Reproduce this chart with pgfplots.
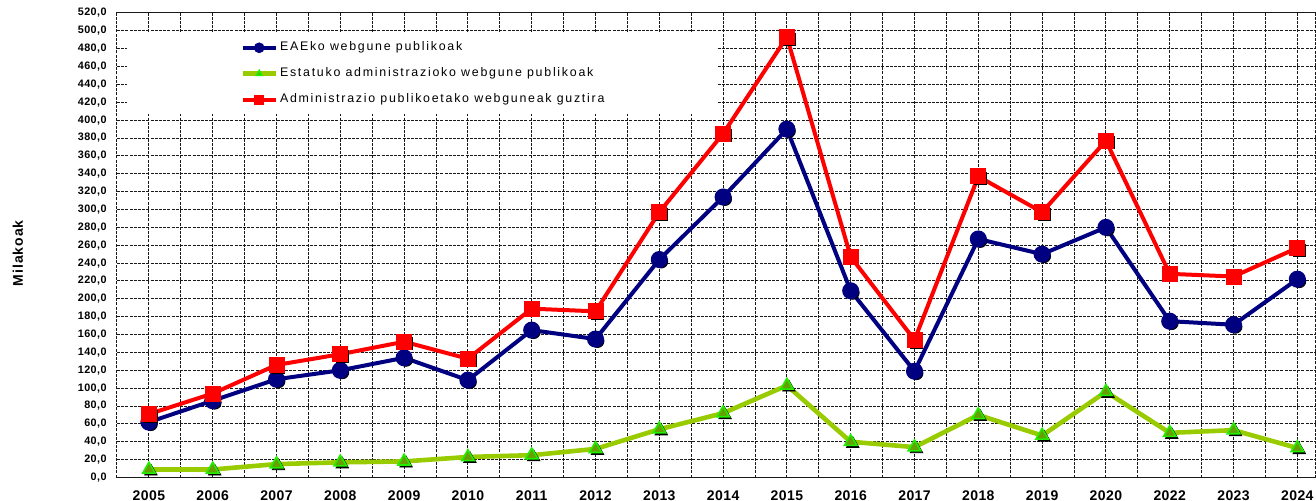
\documentclass[border=0pt]{standalone}
\usepackage{fontspec}
\setmainfont{Liberation Sans}
\newfontfamily\ytfont[LetterSpace=4]{Liberation Sans}
\newfontfamily\xtfont[LetterSpace=3]{Liberation Sans}
\newfontfamily\labfont[LetterSpace=7]{Liberation Sans}
\newfontfamily\legfont[LetterSpace=14]{Liberation Sans}
\usepackage{pgfplots}
\pgfplotsset{compat=1.18}
\definecolor{eae}{HTML}{000080}
\definecolor{estl}{HTML}{99CC00}
\definecolor{estf}{HTML}{66A000}
\definecolor{este}{HTML}{22EE00}
\definecolor{adm}{HTML}{FF0000}
\tikzset{gridl/.style={black!90, line width=0.5pt, dash pattern=on 1.5pt off 0.6pt}}
\begin{document}
\begin{tikzpicture}
\begin{axis}[
  at={(0pt,0pt)}, anchor=south west,
  x=31.9pt, y=0.44665pt,
  xmin=-0.5, xmax=18.29, ymin=0, ymax=520,
  axis line style={gridl},
  grid=both,
  major grid style={gridl},
  minor grid style={gridl},
  xtick={0,...,18}, minor x tick num=1,
  ytick={0,20,...,520},
  major tick length=0pt, minor tick length=0pt,
  xticklabels={2005,2006,2007,2008,2009,2010,2011,2012,2013,2014,2015,2016,2017,2018,2019,2020,2022,2023,2024},
  xticklabel style={font=\xtfont\bfseries\fontsize{7}{8}\selectfont, anchor=base, inner sep=0pt, yshift=-11.25pt},
  yticklabel style={font=\ytfont\bfseries\fontsize{5.4}{6}\selectfont, anchor=east, inner sep=0pt, xshift=-5pt,
    /pgf/number format/.cd, fixed, fixed zerofill, precision=1, use comma, assume math mode=true},
  ylabel={Milakoak},
  ylabel style={font=\labfont\bfseries\fontsize{7}{8}\selectfont, at={(axis description cs:-0.0826,0.4827)}, anchor=center, rotate=0},
  legend cell align=left,
  legend image code/.code={
    \draw[mark repeat=2, mark phase=2, #1, mark size=1.6pt] plot coordinates {(0pt,0pt)(8.25pt,0pt)(16.5pt,0pt)};
  },
  legend style={at={(axis cs:1.428,488.2)}, anchor=north west, draw=none, fill=none, inner sep=0pt,
    font=\legfont\fontsize{6.2}{7}\selectfont, row sep=7pt, column sep=1pt,
    nodes={inner sep=0pt, text height=4.5pt, text depth=1.5pt}},
]
\fill[white] (axis cs:-0.343,407) rectangle (axis cs:8.90,498);
% EAE
\addplot[forget plot, only marks, mark=*, black, mark size=3.25pt, xshift=1pt, yshift=-1pt] coordinates {
(0,62)(1,86)(2,110)(3,120)(4,134)(5,109)(6,165)(7,155)(8,244)(9,314)(10,390)(11,209)(12,119)(13,267)(14,250)(15,280)(16,175)(17,171)(18,222)};
\addplot[eae, line width=2pt, mark=*, mark size=3.25pt, mark options={fill=eae, draw=eae}] coordinates {
(0,62)(1,86)(2,110)(3,120)(4,134)(5,109)(6,165)(7,155)(8,244)(9,314)(10,390)(11,209)(12,119)(13,267)(14,250)(15,280)(16,175)(17,171)(18,222)};
\addlegendentry{EAEko webgune publikoak}
% Estatuko
\addplot[forget plot, only marks, mark=triangle*, black, mark size=3.6pt, xshift=1pt, yshift=-1pt] coordinates {
(0,9)(1,9)(2,15)(3,17)(4,18)(5,23)(6,25)(7,32)(8,54)(9,72)(10,103)(11,40)(12,34)(13,70)(14,47)(15,96)(16,50)(17,53)(18,33)};
\addplot[estl, line width=2.3pt, mark=triangle*, mark size=3.6pt, mark options={fill=estf, draw=este, line width=0.8pt}] coordinates {
(0,9)(1,9)(2,15)(3,17)(4,18)(5,23)(6,25)(7,32)(8,54)(9,72)(10,103)(11,40)(12,34)(13,70)(14,47)(15,96)(16,50)(17,53)(18,33)};
\addlegendentry{Estatuko administrazioko webgune publikoak}
% Administrazio guztira
\addplot[forget plot, only marks, mark=square*, black, mark size=3pt, xshift=1pt, yshift=-1pt] coordinates {
(0,71)(1,94)(2,126)(3,138)(4,152)(5,133)(6,189)(7,186)(8,297)(9,385)(10,493)(11,247)(12,154)(13,337)(14,297)(15,377)(16,228)(17,225)(18,257)};
\addplot[adm, line width=2pt, mark=square*, mark size=3pt, mark options={fill=adm, draw=adm}] coordinates {
(0,71)(1,94)(2,126)(3,138)(4,152)(5,133)(6,189)(7,186)(8,297)(9,385)(10,493)(11,247)(12,154)(13,337)(14,297)(15,377)(16,228)(17,225)(18,257)};
\addlegendentry{Administrazio publikoetako webguneak guztira}
\end{axis}
\pgfresetboundingbox
\useasboundingbox (-58.5pt,-11.25pt) rectangle (599.5pt,238.75pt);
\end{tikzpicture}
\end{document}
